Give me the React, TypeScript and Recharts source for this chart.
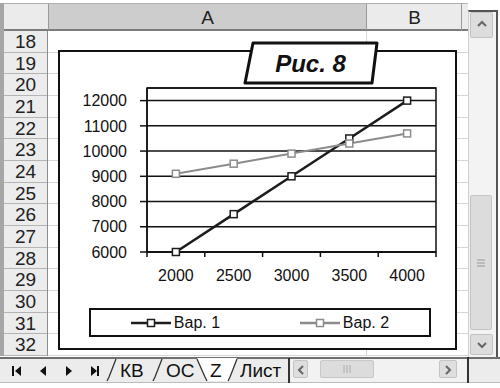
import React from 'react'
import { LineChart, Line, XAxis, YAxis, CartesianGrid, ReferenceArea, Legend } from 'recharts'

const categories = ['2000', '2500', '3000', '3500', '4000']
const var1 = [6000, 7500, 9000, 10500, 12000]
const var2 = [9100, 9500, 9900, 10300, 10700]
const yTicks = [6000, 7000, 8000, 9000, 10000, 11000, 12000]
const yMax = 12500
const seriesNames = ['Вар. 1', 'Вар. 2']
const seriesColors = ['#1c1c1c', '#8c8c8c']
const rowNumbers = [18, 19, 20, 21, 22, 23, 24, 25, 26, 27, 28, 29, 30, 31, 32]
const columnLetters = ['A', 'B']
const sheetTabs = ['КВ', 'ОС', 'Z', 'Лист']
const figureTitle = 'Рис. 8'

const data = categories.map((c, i) => ({ x: c, v1: var1[i], v2: var2[i] }))

const FONT = '"Liberation Sans", Arial, sans-serif'
const CHART_W = 399
const CHART_H = 300
const M = { top: 38, right: 21, bottom: 68, left: 0 }
const Y_W = 89
const X_H = 30
const HALF_BAND = (CHART_W - M.left - M.right - Y_W) / categories.length / 2
const ROW_TOP = 31
const ROW_H = 21.67

// label plus the Excel-style tick marks between categories
function XTick(props: any) {
  const { x, y, payload, index } = props
  const axisY = y - 18
  return (
    <g>
      <line x1={x - HALF_BAND} x2={x - HALF_BAND} y1={axisY} y2={axisY + 5} stroke="#111" strokeWidth={1.5} />
      {index === categories.length - 1 && (
        <line x1={x + HALF_BAND} x2={x + HALF_BAND} y1={axisY} y2={axisY + 5} stroke="#111" strokeWidth={1.5} />
      )}
      <text x={x} y={y} dy="0.71em" textAnchor="middle" fontSize={16} fill="#111" fontFamily={FONT}>
        {payload.value}
      </text>
    </g>
  )
}

const squareDot = (color: string) => (props: any) => {
  const { cx, cy, index } = props
  return (
    <rect key={index} x={cx - 3.5} y={cy - 3.5} width={7} height={7} fill="#fff" stroke={color} strokeWidth={1.5} />
  )
}

function LegendBox(props: any) {
  const items = props.payload ?? []
  return (
    <div
      style={{
        width: '100%',
        height: '100%',
        boxSizing: 'border-box',
        border: '2px solid #111',
        background: '#fff',
        display: 'flex',
        alignItems: 'center',
      }}
    >
      {items.map((it: any) => (
        <div key={it.value} style={{ flex: 1, display: 'flex', justifyContent: 'center', alignItems: 'center' }}>
          <svg width={40} height={10}>
            <line x1={0} x2={40} y1={5} y2={5} stroke={it.color} strokeWidth={2.5} />
            <rect x={16.5} y={1.5} width={7} height={7} fill="#fff" stroke={it.color} strokeWidth={1.5} />
          </svg>
          <span style={{ marginLeft: 3, fontSize: 16, fontFamily: FONT, color: '#111', lineHeight: '16px' }}>
            {it.value}
          </span>
        </div>
      ))}
    </div>
  )
}

function Box({ x, y, w, h, style, children }: any) {
  return (
    <div style={{ position: 'absolute', left: x, top: y, width: w, height: h, boxSizing: 'border-box', ...style }}>
      {children}
    </div>
  )
}

function Chevron({ dir }: { dir: 'up' | 'down' | 'left' | 'right' }) {
  const pts = {
    up: '7,11 11,7 15,11',
    down: '7,8 11,12 15,8',
    left: '9,5 5,9 9,13',
    right: '5,5 9,9 5,13',
  }[dir]
  const size = dir === 'up' || dir === 'down' ? [22, 20] : [14, 18]
  return (
    <svg width={size[0]} height={size[1]} style={{ display: 'block', margin: 'auto' }}>
      <polyline points={pts} fill="none" stroke="#666" strokeWidth={2} />
    </svg>
  )
}

function Spreadsheet() {
  const cellTop = ROW_TOP
  const cellBottom = ROW_TOP + rowNumbers.length * ROW_H
  return (
    <>
      {/* column header */}
      <Box x={0} y={3} w={468} h={28} style={{ background: '#ebebeb', borderTop: '1px solid #b0b0b0', borderBottom: '2px solid #7c7c7c' }} />
      <Box x={48} y={3} w={319} h={28} style={{ background: '#cdcdcd', borderTop: '1px solid #b0b0b0', borderBottom: '2px solid #7c7c7c', borderLeft: '1px solid #9a9a9a', borderRight: '1px solid #9a9a9a' }} />
      <Box x={461} y={3} w={1} h={28} style={{ background: '#9a9a9a' }} />
      {columnLetters.map((c, i) => (
        <Box
          key={c}
          x={i === 0 ? 48 : 367}
          y={4}
          w={i === 0 ? 319 : 95}
          h={26}
          style={{ fontFamily: FONT, fontSize: 19, color: '#222', textAlign: 'center', lineHeight: '27px' }}
        >
          {c}
        </Box>
      ))}

      {/* cells */}
      <Box x={48} y={cellTop} w={420} h={cellBottom - cellTop} style={{ background: '#fff' }} />
      {rowNumbers.map((r, i) => (
        <Box key={'g' + r} x={48} y={cellTop + (i + 1) * ROW_H - 1} w={420} h={1} style={{ background: '#d6d6d6' }} />
      ))}
      <Box x={366} y={cellTop} w={1} h={cellBottom - cellTop} style={{ background: '#d6d6d6' }} />

      {/* row header */}
      <Box x={0} y={cellTop} w={48} h={cellBottom - cellTop} style={{ background: '#ececec', borderLeft: '4px solid #a6a6a6', borderRight: '1px solid #8c8c8c' }} />
      <Box x={0} y={3} w={4} h={28} style={{ background: '#a6a6a6' }} />
      {rowNumbers.map((r, i) => (
        <Box
          key={r}
          x={4}
          y={cellTop + i * ROW_H}
          w={43}
          h={ROW_H}
          style={{
            fontFamily: FONT,
            fontSize: 19,
            color: '#222',
            textAlign: 'center',
            lineHeight: ROW_H + 'px',
            borderBottom: '1px solid #b4b4b4',
          }}
        >
          {r}
        </Box>
      ))}

      {/* vertical scrollbar */}
      <Box x={468} y={10} w={30} h={347} style={{ background: '#f3f3f3', borderLeft: '1px solid #cfcfcf', borderTop: '2px solid #555', borderRight: '2px solid #555' }} />
      <Box x={470} y={12} w={23} h={26} style={{ background: '#dddddd', border: '1px solid #c2c2c2', borderRadius: 2, display: 'flex' }}>
        <Chevron dir="up" />
      </Box>
      <Box x={470} y={195} w={22} h={135} style={{ background: '#dcdcdc', border: '1px solid #c4c4c4', borderRadius: 2, display: 'flex', alignItems: 'center', justifyContent: 'center' }}>
        <svg width={10} height={10}>
          <line x1={1} x2={9} y1={2} y2={2} stroke="#999" />
          <line x1={1} x2={9} y1={5} y2={5} stroke="#999" />
          <line x1={1} x2={9} y1={8} y2={8} stroke="#999" />
        </svg>
      </Box>
      <Box x={470} y={334} w={23} h={21} style={{ background: '#dddddd', border: '1px solid #c2c2c2', borderRadius: 2, display: 'flex' }}>
        <Chevron dir="down" />
      </Box>

      {/* sheet tabs bar */}
      <Box x={0} y={357} w={500} h={26} style={{ background: '#ececec', borderTop: '2px solid #6f6f6f', borderBottom: '1px solid #bdbdbd' }} />
      <svg width={300} height={28} style={{ position: 'absolute', left: 0, top: 356 }}>
        {/* navigation buttons */}
        <rect x={12} y={10} width={2} height={10} fill="#111" />
        <polygon points="21,10 15,15 21,20" fill="#111" />
        <polygon points="46,10 40,15 46,20" fill="#111" />
        <polygon points="66,10 72,15 66,20" fill="#111" />
        <polygon points="91,10 97,15 91,20" fill="#111" />
        <rect x={97} y={10} width={2} height={10} fill="#111" />
        {/* active tab */}
        <polygon points="197,2 207,25 228,25 237,2" fill="#fff" />
        <g stroke="#333" strokeWidth={1.3} fill="none">
          <polyline points="107,25 109,21 116,3" />
          <polyline points="153,25 155,21 162,3" />
          <polyline points="228,25 230,21 237,3" />
          <polyline points="197,3 205,21 207,25" />
        </g>
        <rect x={288} y={2} width={2} height={25} fill="#333" />
      </svg>
      {sheetTabs.map((t, i) => {
        const lefts = [120, 166, 210, 240]
        return (
          <Box
            key={t}
            x={lefts[i]}
            y={359}
            w={i === 3 ? 47 : 30}
            h={24}
            style={{ fontFamily: FONT, fontSize: 19, color: '#111', lineHeight: '24px', overflow: 'hidden', whiteSpace: 'nowrap' }}
          >
            {t}
          </Box>
        )
      })}
      {/* horizontal scrollbar */}
      <Box x={291} y={359} w={177} h={23} style={{ background: '#f2f2f2' }} />
      <Box x={293} y={360} w={15} h={18} style={{ background: '#dedede', border: '1px solid #c4c4c4', borderRadius: 2, display: 'flex' }}>
        <Chevron dir="left" />
      </Box>
      <Box x={320} y={360} w={54} h={18} style={{ background: '#dcdcdc', border: '1px solid #c8c8c8', borderRadius: 2, display: 'flex', alignItems: 'center', justifyContent: 'center' }}>
        <svg width={10} height={8}>
          <line x1={2} x2={2} y1={0} y2={8} stroke="#aaa" />
          <line x1={5} x2={5} y1={0} y2={8} stroke="#aaa" />
          <line x1={8} x2={8} y1={0} y2={8} stroke="#aaa" />
        </svg>
      </Box>
      <Box x={439} y={360} w={18} h={18} style={{ background: '#dedede', border: '1px solid #c4c4c4', borderRadius: 2, display: 'flex' }}>
        <Chevron dir="right" />
      </Box>
      <Box x={467} y={357} w={2} h={26} style={{ background: '#333' }} />
    </>
  )
}

export default function App() {
  return (
    <div style={{ position: 'absolute', left: 0, top: 0, width: 500, height: 388, background: '#fff', overflow: 'hidden' }}>
      <Spreadsheet />

      {/* chart object */}
      <Box x={58} y={50} w={CHART_W} h={CHART_H} style={{ background: '#fff', border: '2px solid #111' }} />
      <div style={{ position: 'absolute', left: 58, top: 50 }}>
        <LineChart width={CHART_W} height={CHART_H} data={data} margin={M}>
          <CartesianGrid vertical={false} stroke="#111" strokeWidth={1.5} />
          <ReferenceArea y1={6000} y2={yMax} fill="none" stroke="#111" strokeWidth={1.5} ifOverflow="extendDomain" />
          <XAxis
            dataKey="x"
            scale="band"
            interval={0}
            height={X_H}
            tickSize={6}
            tickMargin={12}
            tickLine={false}
            axisLine={{ stroke: '#111', strokeWidth: 1.5 }}
            tick={<XTick />}
          />
          <YAxis
            width={Y_W}
            domain={[6000, yMax]}
            ticks={yTicks}
            interval={0}
            tickSize={7}
            tickMargin={13}
            tickLine={{ stroke: '#111', strokeWidth: 1.5 }}
            axisLine={{ stroke: '#111', strokeWidth: 1.5 }}
            tick={{ fill: '#111', fontSize: 16, fontFamily: FONT }}
          />
          <Legend
            layout="horizontal"
            verticalAlign="middle"
            align="center"
            wrapperStyle={{ left: 31, top: 258, width: 342, height: 29 }}
            content={<LegendBox />}
          />
          <Line
            dataKey="v1"
            name={seriesNames[0]}
            stroke={seriesColors[0]}
            strokeWidth={2.5}
            dot={squareDot(seriesColors[0])}
            activeDot={false}
            isAnimationActive={false}
          />
          <Line
            dataKey="v2"
            name={seriesNames[1]}
            stroke={seriesColors[1]}
            strokeWidth={2}
            dot={squareDot(seriesColors[1])}
            activeDot={false}
            isAnimationActive={false}
          />
        </LineChart>
      </div>

      {/* figure label */}
      <svg width={145} height={52} style={{ position: 'absolute', left: 240, top: 38 }}>
        <polygon points="13,5 137,5 132,45 5,45" fill="#fff" stroke="#111" strokeWidth={3} strokeLinejoin="round" />
        <text x={70.5} y={34.3} textAnchor="middle" fontFamily={FONT} fontSize={24} fontWeight="bold" fontStyle="italic" fill="#111">
          {figureTitle}
        </text>
      </svg>
    </div>
  )
}
